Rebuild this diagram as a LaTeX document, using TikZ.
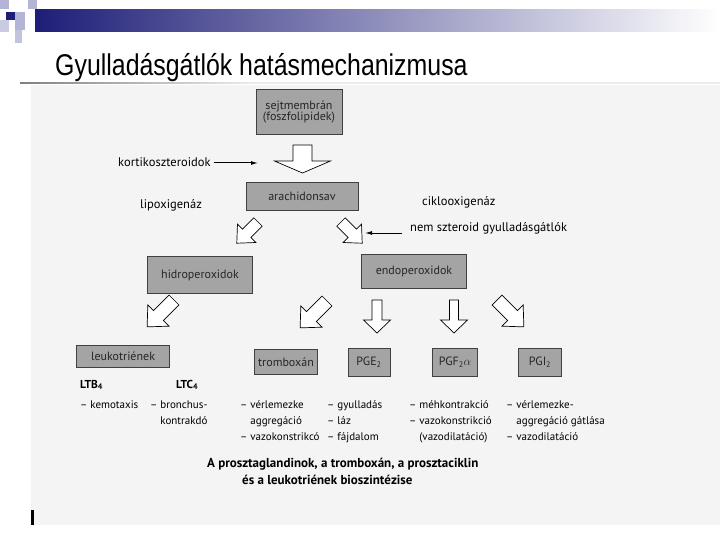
\documentclass[tikz,border=0pt]{standalone}
\usepackage{fontspec}
\setmainfont{PT Sans}
\newfontfamily\titlefont[FakeStretch=0.83]{Liberation Sans}
\usetikzlibrary{arrows.meta}
\definecolor{scanbg}{HTML}{F4F4F4}
\definecolor{boxgray}{HTML}{A4A4A4}
\definecolor{navy}{HTML}{1E1E78}
\definecolor{lilac}{HTML}{B4B4D6}
\newcommand\fatarrow[6]{%
  \draw[fatarr, shift={(#1)}, rotate=#2] (0,-#5) -- (#3,-#5) -- (#3,-#6) -- ({#3+#4},0) -- (#3,#6) -- (#3,#5) -- (0,#5) -- cycle;}
\newcommand\lns[1]{\vtop{\baselineskip=16pt\halign{##\hfil\cr#1\crcr}}}
\tikzset{
  gbox/.style={draw=black!75, fill=boxgray, line width=0.8pt, inner sep=1pt, font=\fontsize{12}{13}\selectfont, text=black!85},
  lbl/.style={inner sep=0pt, anchor=base west, font=\fontsize{12.5}{14}\selectfont},
  sm/.style={inner sep=0pt, anchor=base west, font=\fontsize{11}{16}\selectfont},
  fatarr/.style={draw=black, fill=white, line width=0.7pt, line join=miter},
  thin/.style={-{Latex[length=7pt,width=4pt]}, line width=1pt}
}
\begin{document}
\begin{tikzpicture}[x=1pt,y=-1pt]
\path[use as bounding box, fill=white] (0,0) rectangle (720,540);
% title decoration
\shade[left color=navy, right color=white] (35,10) rectangle (720,32);
\fill[lilac] (0,0) rectangle (9,9);
\fill[lilac] (28,0) rectangle (37,9);
\fill[navy] (6,12) rectangle (15,20);
\fill[lilac] (15,12) rectangle (25,30);
\fill[lilac!70] (0,20) rectangle (9,32);
\fill[lilac!80] (15,30) rectangle (22,43);
\node[anchor=base west, inner sep=0pt, font=\titlefont\fontsize{30}{32}\selectfont] (title) at (55,76) {Gyulladásgátlók hatásmechanizmusa};
\shade[left color=black!50, right color=black!8] (20,82.5) rectangle (250,84);
\fill[black!8] (250,82.5) rectangle (720,84);
% scanned area
\fill[scanbg] (31,85) rectangle (720,525);
\fill[black] (31,510) rectangle (33.5,525);
% boxes
\node[gbox, minimum width=86pt, minimum height=45pt] (sejt) at (299,112) {\begin{tabular}{@{}c@{}}sejtmembrán\\[-2pt](foszfolipidek)\end{tabular}};
\node[gbox, minimum width=112pt, minimum height=28pt] (arach) at (302,196) {arachidonsav};
\node[gbox, minimum width=105pt, minimum height=37pt] (hidro) at (200,275) {hidroperoxidok};
\node[gbox, minimum width=105pt, minimum height=34pt] (endo) at (414,271) {endoperoxidok};
\node[gbox, minimum width=93pt, minimum height=22pt] (leuko) at (123,356) {leukotriének};
\node[gbox, minimum width=63pt, minimum height=25pt] (tromb) at (286,362) {tromboxán};
\node[gbox, minimum width=42pt, minimum height=28pt] (pge) at (369,362) {PGE\textsubscript{2}};
\node[gbox, minimum width=45pt, minimum height=28pt] (pgf) at (455,362) {PGF\textsubscript{2}$\alpha$};
\node[gbox, minimum width=43pt, minimum height=28pt] (pgi) at (540,362) {PGI\textsubscript{2}};
% fat arrows
\fatarrow{302.5,145}{-90}{16}{12}{9.5}{28}
\fatarrow{258,222}{225}{16}{14}{6}{13}
\fatarrow{341,222}{-45}{16}{14}{6}{13}
\fatarrow{174,300}{225}{22}{16}{7}{15}
\fatarrow{327,301}{225}{22}{16}{7}{15}
\fatarrow{497,300}{-45}{22}{16}{7}{15}
\fatarrow{377,300}{-90}{20}{13}{5}{13.5}
\fatarrow{454,300}{-90}{20}{13}{4.5}{13.5}
% labels and inhibitor arrows
\node[lbl] (kort) at (118,167) {kortikoszteroidok};
\coordinate (kortend) at (258,163);
\draw[thin] (kort.east |- kortend) ++(3,0) -- (kortend);
\node[lbl] (lipo) at (140,209) {lipoxigenáz};
\node[lbl] (ciklo) at (422,206) {ciklooxigenáz};
\node[lbl] (nsaid) at (410,232) {nem szteroid gyulladásgátlók};
\coordinate (nsaidend) at (365,233);
\draw[thin] (nsaid.west |- nsaidend) ++(-8,0) -- (nsaidend);
% lower texts
\node[sm, font=\bfseries\fontsize{11.5}{14}\selectfont] (ltb) at (80,388) {LTB\textsubscript{4}};
\node[sm, font=\bfseries\fontsize{11.5}{14}\selectfont] (ltc) at (176,388) {LTC\textsubscript{4}};
\node[sm] (e1) at (80,408) {– kemotaxis};
\node[sm] (e2) at (150,408) {\lns{– bronchus-\cr\hphantom{– }kontrakdó}};
\node[sm] (e3) at (240,408) {\lns{– vérlemezke\cr\hphantom{– }aggregáció\cr– vazokonstrikcó}};
\node[sm] (e4) at (327,408) {\lns{– gyulladás\cr– láz\cr– fájdalom}};
\node[sm] (e5) at (409,408) {\lns{– méhkontrakció\cr– vazokonstrikció\cr\hphantom{– }(vazodilatáció)}};
\node[sm] (e6) at (506,408) {\lns{– vérlemezke-\cr\hphantom{– }aggregáció gátlása\cr– vazodilatáció}};
\node[sm, font=\bfseries\fontsize{13}{17}\selectfont] (cap1) at (207,467) {A prosztaglandinok, a tromboxán, a prosztaciklin};
\node[sm, font=\bfseries\fontsize{13}{17}\selectfont] (cap2) at (242,484) {és a leukotriének bioszintézise};
\end{tikzpicture}
\end{document}
